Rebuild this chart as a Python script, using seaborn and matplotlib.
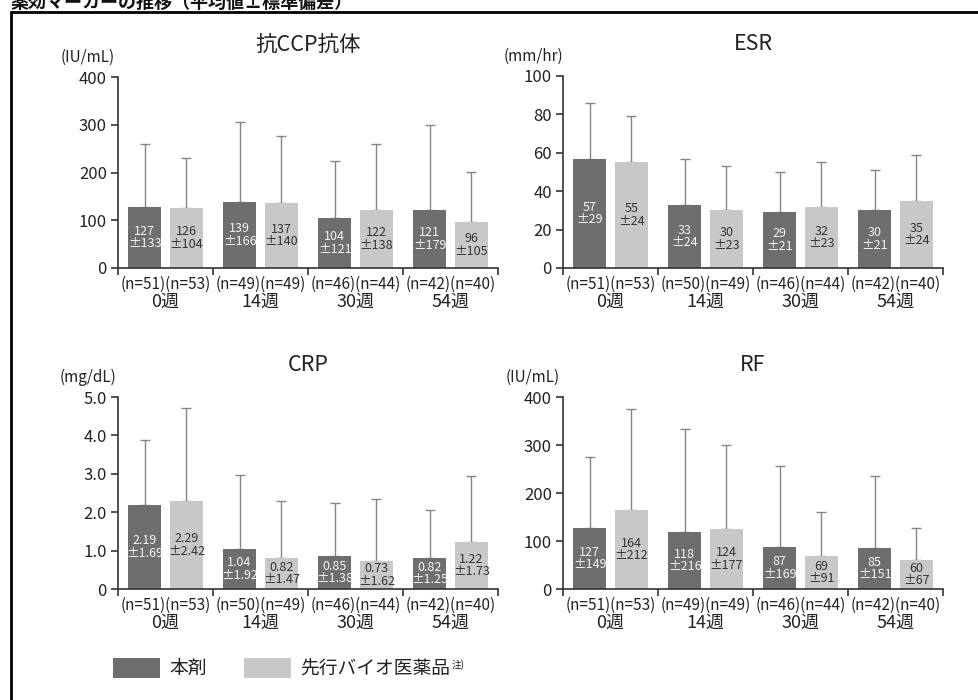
import numpy as np
import pandas as pd
import seaborn as sns
import matplotlib
matplotlib.use("Agg")
import matplotlib.pyplot as plt
from matplotlib.patches import Rectangle, Patch
from matplotlib.transforms import blended_transform_factory, offset_copy

sns.set_theme(style="white")
plt.rcParams["font.family"] = ["Noto Sans CJK JP", "DejaVu Sans"]

# ---------------- data ----------------
weeks = ["0週", "14週", "30週", "54週"]
groups = ["本剤", "先行バイオ医薬品"]

ccp_mean_a = [127, 139, 104, 121]
ccp_sd_a = [133, 166, 121, 179]
ccp_mean_b = [126, 137, 122, 96]
ccp_sd_b = [104, 140, 138, 105]
ccp_n_a = [51, 49, 46, 42]
ccp_n_b = [53, 49, 44, 40]

esr_mean_a = [57, 33, 29, 30]
esr_sd_a = [29, 24, 21, 21]
esr_mean_b = [55, 30, 32, 35]
esr_sd_b = [24, 23, 23, 24]
esr_n_a = [51, 50, 46, 42]
esr_n_b = [53, 49, 44, 40]

crp_mean_a = [2.19, 1.04, 0.85, 0.82]
crp_sd_a = [1.69, 1.92, 1.38, 1.25]
crp_mean_b = [2.29, 0.82, 0.73, 1.22]
crp_sd_b = [2.42, 1.47, 1.62, 1.73]
crp_n_a = [51, 50, 46, 42]
crp_n_b = [53, 49, 44, 40]

rf_mean_a = [127, 118, 87, 85]
rf_sd_a = [149, 216, 169, 151]
rf_mean_b = [164, 124, 69, 60]
rf_sd_b = [212, 177, 91, 67]
rf_n_a = [51, 49, 46, 42]
rf_n_b = [53, 49, 44, 40]

ccp_ticks = [0, 100, 200, 300, 400]
ccp_ticklabels = ["0", "100", "200", "300", "400"]
esr_ticks = [0, 20, 40, 60, 80, 100]
esr_ticklabels = ["0", "20", "40", "60", "80", "100"]
crp_ticks = [0, 1, 2, 3, 4, 5]
crp_ticklabels = ["0", "1.0", "2.0", "3.0", "4.0", "5.0"]
rf_ticks = [0, 100, 200, 300, 400]
rf_ticklabels = ["0", "100", "200", "300", "400"]

DARK = "#6e6e6e"
LIGHT = "#c8c8c8"
AXC = "#333333"

W, H = 979, 700
fig = plt.figure(figsize=(W / 100, H / 100), dpi=100)
fig.patch.set_facecolor("white")


def px_axes(x0, x1, ytop, ybot):
    return fig.add_axes([x0 / W, (H - ybot) / H, (x1 - x0) / W, (ybot - ytop) / H])


panels = [
    dict(title="抗CCP抗体", unit="(IU/mL)", box=(118, 498, 77, 268),
         ma=ccp_mean_a, sa=ccp_sd_a, mb=ccp_mean_b, sb=ccp_sd_b, na=ccp_n_a, nb=ccp_n_b,
         ticks=ccp_ticks, labels=ccp_ticklabels, dec=0),
    dict(title="ESR", unit="(mm/hr)", box=(563, 943, 76, 268),
         ma=esr_mean_a, sa=esr_sd_a, mb=esr_mean_b, sb=esr_sd_b, na=esr_n_a, nb=esr_n_b,
         ticks=esr_ticks, labels=esr_ticklabels, dec=0),
    dict(title="CRP", unit="(mg/dL)", box=(118, 498, 397, 589),
         ma=crp_mean_a, sa=crp_sd_a, mb=crp_mean_b, sb=crp_sd_b, na=crp_n_a, nb=crp_n_b,
         ticks=crp_ticks, labels=crp_ticklabels, dec=2),
    dict(title="RF", unit="(IU/mL)", box=(563, 943, 397, 589),
         ma=rf_mean_a, sa=rf_sd_a, mb=rf_mean_b, sb=rf_sd_b, na=rf_n_a, nb=rf_n_b,
         ticks=rf_ticks, labels=rf_ticklabels, dec=0),
]

for p in panels:
    ax = px_axes(*p["box"])
    df = pd.DataFrame({
        "week": weeks * 2,
        "group": [groups[0]] * 4 + [groups[1]] * 4,
        "value": list(p["ma"]) + list(p["mb"]),
    })
    sns.barplot(data=df, x="week", y="value", hue="group", order=weeks, hue_order=groups,
                palette=[DARK, LIGHT], width=0.88, gap=0.2, errorbar=None,
                legend=False, linewidth=0, saturation=1, ax=ax)
    ax.set_facecolor("white")
    ax.set_xlim(-0.5, 3.5)
    ax.set_ylim(p["ticks"][0], p["ticks"][-1])
    ax.set_xlabel("")
    ax.set_ylabel("")

    for cont, means, sds, tcol in zip(ax.containers, [p["ma"], p["mb"]], [p["sa"], p["sb"]],
                                       ["#f4f4f4", "#333333"]):
        xs = [b.get_x() + b.get_width() / 2 for b in cont]
        ax.errorbar(xs, means, yerr=[np.zeros(len(sds)), sds], fmt="none",
                    ecolor="#858585", elinewidth=1.0, capsize=3.5, capthick=1.0, zorder=0.5)
        for x, m, s in zip(xs, means, sds):
            ax.text(x, m / 2, f"{m:.{p['dec']}f}\n±{s:.{p['dec']}f}", ha="center", va="center",
                    fontsize=9, color=tcol, linespacing=0.95, zorder=5)

    for side in ["top", "right"]:
        ax.spines[side].set_visible(False)
    for side in ["left", "bottom"]:
        ax.spines[side].set_color(AXC)
        ax.spines[side].set_linewidth(1.2)
    ax.set_yticks(p["ticks"])
    ax.set_yticklabels(p["labels"])
    ax.set_xticks([-0.5, 0.5, 1.5, 2.5, 3.5])
    ax.set_xticklabels([])
    ax.tick_params(axis="both", which="major", direction="out", length=5, width=1.2,
                   color=AXC, labelsize=12, labelcolor="#222222", pad=3,
                   left=True, bottom=True)

    trans = blended_transform_factory(ax.transData, ax.transAxes)
    t_n = offset_copy(trans, fig=fig, x=0, y=-16, units="dots")
    t_w = offset_copy(trans, fig=fig, x=0, y=-34, units="dots")
    for i, wk in enumerate(weeks):
        ax.text(i, 0, f"(n={p['na'][i]})(n={p['nb'][i]})", transform=t_n, ha="center",
                va="center", fontsize=11, color="#222222")
        ax.text(i, 0, wk, transform=t_w, ha="center", va="center", fontsize=13,
                color="#222222")

    t_title = offset_copy(ax.transAxes, fig=fig, x=0, y=32, units="dots")
    ax.text(0.5, 1.0, p["title"], transform=t_title, ha="center", va="center",
            fontsize=15.5, color="#222222")
    t_unit = offset_copy(ax.transAxes, fig=fig, x=-30, y=20, units="dots")
    ax.text(0.0, 1.0, p["unit"], transform=t_unit, ha="center", va="center",
            fontsize=11, color="#222222")

# frame
fig.patches.append(Rectangle((11 / W, -0.1), 1.2, (H - 12) / H + 0.1, transform=fig.transFigure,
                             fill=False, lw=2, ec="black", clip_on=False))

# heading at the very top (cut by the page edge in the reference)
fig.text(10 / W, 1.0 - 2 / H, "薬効マーカーの推移（平均値±標準偏差）", ha="left", va="center",
         fontsize=13, fontweight="bold", color="#111111")

# legend
handles = [Patch(facecolor=DARK, edgecolor="none"), Patch(facecolor=LIGHT, edgecolor="none")]
leg = fig.legend(handles, groups, loc="center left", bbox_to_anchor=(113 / W, (H - 668.5) / H),
                 ncol=2, frameon=False, fontsize=13.5, handlelength=2.5, handleheight=1.25,
                 handletextpad=0.5, columnspacing=2.0, borderpad=0, borderaxespad=0)
for t in leg.get_texts():
    t.set_color("#222222")

fig.canvas.draw()
bb = leg.get_texts()[1].get_window_extent()
fig.text((bb.x1 + 1) / W, (bb.y1 - 1) / H, "注)", ha="left", va="top", fontsize=7,
         color="#222222")

fig.savefig("out.png", dpi=100, facecolor="white")
